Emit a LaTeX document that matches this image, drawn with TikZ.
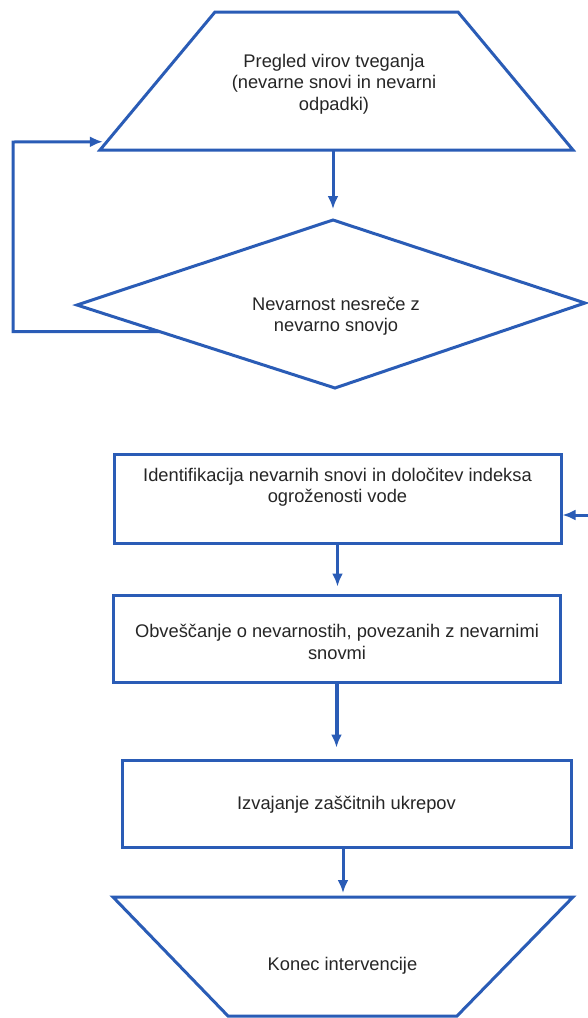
\documentclass[tikz,border=0pt]{standalone}
\usepackage{fontspec}
\setmainfont{Liberation Sans}
\usetikzlibrary{arrows.meta,calc}
\definecolor{flowblue}{RGB}{42,92,182}

\tikzset{
  outline/.style={draw=flowblue, line width=3pt, line join=miter},
  flowbox/.style={outline, rectangle, inner sep=0pt},
  arr/.style={draw=flowblue, line width=3pt, -{Latex[length=13pt,width=11pt]}},
  txt/.style={font=\fontsize{18.3}{21.5}\selectfont, align=center, text=black!85},
}

\begin{document}
\begin{tikzpicture}[x=1pt,y=-1pt]
\useasboundingbox (0,0) rectangle (587,1018);
\fill[white] (0,0) rectangle (587,1018);

% Start (trapezoid)
\coordinate (startbl) at (100,150);
\coordinate (starttl) at (215,12);
\coordinate (starttr) at (458,12);
\coordinate (startbr) at (573,150);
\draw[outline] (startbl) -- (starttl) -- (starttr) -- (startbr) -- cycle;

% Decision (diamond)
\coordinate (riskn) at (333,220);
\coordinate (riske) at (585,303);
\coordinate (risks) at (335,388);
\coordinate (riskw) at (77,305);
\draw[outline] (riskn) -- (riske) -- (risks) -- (riskw) -- cycle;

% Boxes
\node[flowbox, minimum width=447pt, minimum height=89pt] (ident) at (337.5,498.5) {};
\node[flowbox, minimum width=447pt, minimum height=87pt] (note) at (336.5,638.5) {};
\node[flowbox, minimum width=449pt, minimum height=87pt] (act) at (346.5,803.5) {};

% End (upside-down trapezoid)
\coordinate (endtl) at (113,897);
\coordinate (endtr) at (573,897);
\coordinate (endbr) at (457,1016);
\coordinate (endbl) at (228,1016);
\draw[outline] (endtl) -- (endtr) -- (endbr) -- (endbl) -- cycle;

% Texts
\node[txt] (starttxt) at (334,84) {Pregled virov tveganja\\(nevarne snovi in nevarni\\odpadki)};
\node[txt] (risktxt) at (336,316) {Nevarnost nesreče z\\nevarno snovjo};
\node[txt] (identtxt) at (337.5,487) {Identifikacija nevarnih snovi in določitev indeksa\\ogroženosti vode};
\node[txt] (notetxt) at (337,642) {Obveščanje o nevarnostih, povezanih z nevarnimi\\snovmi};
\node[txt] (acttxt) at (346.5,805) {Izvajanje zaščitnih ukrepov};
\node[txt] (endtxt) at (342.5,966) {Konec intervencije};

% Arrows
\draw[arr, shorten >=11pt] (riskn |- startbl) -- (riskn);
\draw[arr, shorten >=7pt] (ident.south) -- (ident.south |- note.north);
\draw[arr, line width=4pt, shorten >=11pt] (note.south) -- (note.south |- act.north);
\draw[arr, shorten >=4pt] (343,847) -- (343,897);

% Loop back to the start
\coordinate (loopout) at ($(riskw)!0.32!(risks)$);
\coordinate (loopin) at ($(startbl)!0.06!(starttl)$);
\draw[arr, shorten >=4pt] (loopout) -| (13,142) -- (loopin);

% Entry from the right
\coordinate (fromright) at (590,515);
\draw[arr] (fromright) -- (ident.east |- fromright);

\end{tikzpicture}
\end{document}
